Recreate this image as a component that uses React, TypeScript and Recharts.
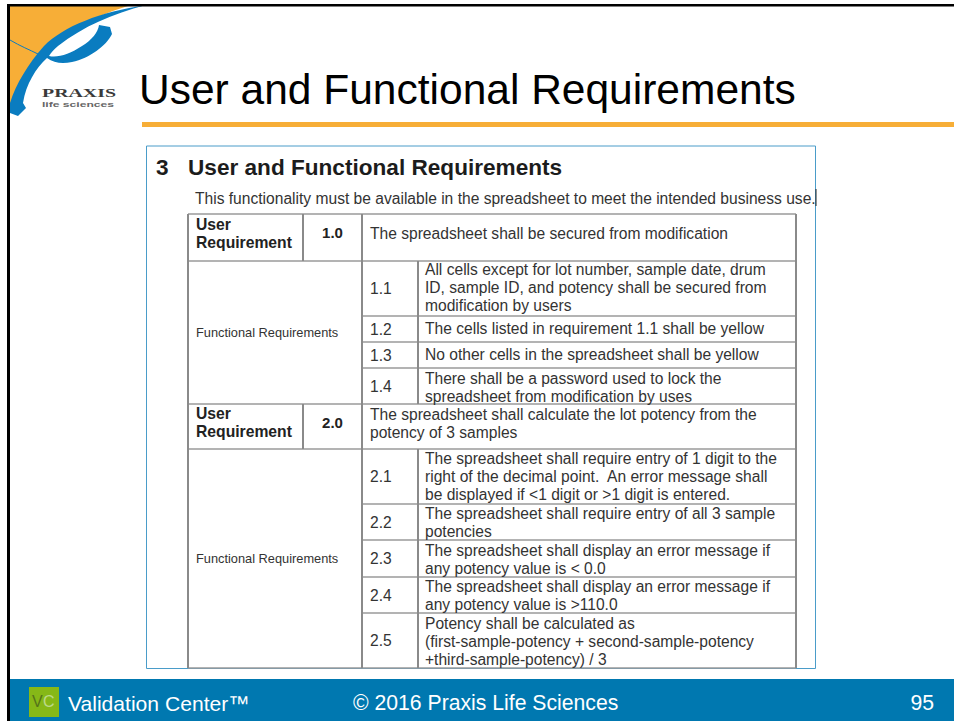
import React from "react";
import { ComposedChart, XAxis, YAxis, Scatter, ReferenceLine, ReferenceArea } from "recharts";

const W = 954, H = 721;
const slideTitle = "User and Functional Requirements";
const sectionNumber = "3";
const sectionTitle = "User and Functional Requirements";
const intro = "This functionality must be available in the spreadsheet to meet the intended business use.";
const headLabels = [["User", "Requirement"], ["User", "Requirement"]];
const headIds = ["1.0", "2.0"];
const headTexts = [
  ["The spreadsheet shall be secured from modification"],
  ["The spreadsheet shall calculate the lot potency from the", "potency of 3 samples"],
];
const blockLabel = "Functional Requirements";
const reqIds = ["1.1", "1.2", "1.3", "1.4", "2.1", "2.2", "2.3", "2.4", "2.5"];
const reqTexts = [
  ["All cells except for lot number, sample date, drum", "ID, sample ID, and potency shall be secured from", "modification by users"],
  ["The cells listed in requirement 1.1 shall be yellow"],
  ["No other cells in the spreadsheet shall be yellow"],
  ["There shall be a password used to lock the", "spreadsheet from modification by uses"],
  ["The spreadsheet shall require entry of 1 digit to the", "right of the decimal point.  An error message shall", "be displayed if <1 digit or >1 digit is entered."],
  ["The spreadsheet shall require entry of all 3 sample", "potencies"],
  ["The spreadsheet shall display an error message if", "any potency value is < 0.0"],
  ["The spreadsheet shall display an error message if", "any potency value is >110.0"],
  ["Potency shall be calculated as", "(first-sample-potency + second-sample-potency", "+third-sample-potency) / 3"],
];
const footerLeft = "Validation Center™";
const footerMid = "© 2016 Praxis Life Sciences";
const footerPage = "95";

// layout
const reqRowTops = [261, 316, 342, 368, 449, 504, 540, 577, 613];
const reqRowBottoms = [316, 342, 368, 404, 504, 540, 577, 613, 668];
const reqFirstBaselines = [275, 334, 360, 384, 464, 519, 556, 592, 629];
const lineGap = 18;
const bodySize = 15.6;

type T = { x: number; y: number; text: string; size: number; weight?: number; fill?: string; anchor?: string; family?: string; len?: number };
const texts: T[] = [];
const ink = "#333";
const add = (t: T) => texts.push(t);

add({ x: 139, y: 104, text: slideTitle, size: 42.5, fill: "#000" });
add({ x: 156, y: 175, text: sectionNumber, size: 22.6, weight: 700, fill: "#1c1c1c" });
add({ x: 188, y: 175, text: sectionTitle, size: 22.6, weight: 700, fill: "#1c1c1c" });
add({ x: 195, y: 204, text: intro, size: bodySize, fill: ink });
const headY = [230, 419];
headLabels.forEach((ls, i) => ls.forEach((l, j) => add({ x: 196, y: headY[i] + j * 18, text: l, size: 15.7, weight: 700, fill: "#222" })));
const headIdY = [238, 428];
headIds.forEach((l, i) => add({ x: 332.5, y: headIdY[i], text: l, size: 15, weight: 700, fill: "#222", anchor: "middle" }));
const headTextY = [239, 420];
headTexts.forEach((ls, i) => ls.forEach((l, j) => add({ x: 370, y: headTextY[i] + j * 18, text: l, size: bodySize, fill: ink })));
[337, 563].forEach((y) => add({ x: 196, y, text: blockLabel, size: 12.8, fill: ink }));
reqIds.forEach((l, i) => add({ x: 370, y: (reqRowTops[i] + reqRowBottoms[i]) / 2 + 5.5, text: l, size: bodySize, fill: ink }));
reqTexts.forEach((ls, i) => ls.forEach((l, j) => add({ x: 425, y: reqFirstBaselines[i] + j * lineGap, text: l, size: bodySize, fill: ink })));
add({ x: 68, y: 711, text: footerLeft, size: 21.1, fill: "#fff" });
add({ x: 353, y: 710, text: footerMid, size: 21.2, fill: "#fff" });
add({ x: 934, y: 710, text: footerPage, size: 21.2, fill: "#fff", anchor: "end" });
add({ x: 32, y: 707, text: "V", size: 16, fill: "#55741a" });
add({ x: 43, y: 707, text: "C", size: 16, fill: "#bcd98a" });
add({ x: 42, y: 97, text: "PRAXIS", size: 12, weight: 700, fill: "#3a3a3a", family: "Liberation Serif", len: 74 });
add({ x: 42, y: 107, text: "life sciences", size: 8, weight: 700, fill: "#666", len: 72 });

const TextMark = (p: any) => {
  const d = p.payload;
  return (
    <text x={p.cx} y={p.cy} fontSize={d.size} fontWeight={d.weight || 400} fill={d.fill} textAnchor={d.anchor || "start"}
      fontFamily={d.family || "Liberation Sans"} style={{ whiteSpace: "pre" }}
      {...(d.len ? { textLength: d.len, lengthAdjust: "spacingAndGlyphs" } : {})}>{d.text}</text>
  );
};

const hLines: [number, number, number][] = [
  [188, 796, 214], [188, 796, 261], [362, 796, 316], [362, 796, 342], [362, 796, 368], [188, 796, 404],
  [188, 796, 449], [362, 796, 504], [362, 796, 540], [362, 796, 577], [362, 796, 613], [188, 796, 668],
];
const vLines: [number, number, number][] = [
  [188, 214, 668], [796, 214, 668], [362, 214, 668], [303, 214, 261], [303, 404, 449], [418, 261, 404], [418, 449, 668],
];
const seg = (a: number, b: number, c: number, horiz: boolean, key: string, color = "#9a9a9a", w = 1.6) => (
  <ReferenceLine key={key} stroke={color} strokeWidth={w} ifOverflow="visible"
    segment={horiz ? [{ x: a, y: c }, { x: b, y: c }] : [{ x: c, y: a }, { x: c, y: b }]} />
);

export default function App() {
  return (
    <div style={{ position: "absolute", left: 0, top: 0, width: W, height: H, background: "#fff", overflow: "hidden" }}>
      <ComposedChart width={W} height={H} data={[]} margin={{ top: 0, right: 0, bottom: 0, left: 0 }}>
        <XAxis type="number" dataKey="x" domain={[0, W]} hide allowDataOverflow />
        <YAxis type="number" dataKey="y" domain={[0, H]} reversed hide allowDataOverflow />
        <path d="M10 6 L128 6 C90 18 62 32 44 50 C28 66 16 86 10 108 Z" fill="#F7AE37" />
        <path d="M10 40 C20 46 30 50 38 54" stroke="#0a7cc0" strokeWidth={1} fill="none" />
        <path d="M10 103 C16 84 28 64 44 46 C64 26 100 12 146 5 C112 14 84 26 58 46 C54 49 51 53 49 56 C58 58 70 54 82 46 C92 40 98 32 99 25 L110 27 L112 34 C106 46 90 58 72 62 C62 64 54 63 47 58 C36 68 26 84 23 103 L26 108 L18 116 L10 113 Z" fill="#0a7cc0" />
        <ReferenceArea x1={7} x2={10} y1={4} y2={721} fill="#000" fillOpacity={1} stroke="none" ifOverflow="visible" />
        <ReferenceArea x1={7} x2={954} y1={4} y2={6.5} fill="#000" fillOpacity={1} stroke="none" ifOverflow="visible" />
        <ReferenceArea x1={142} x2={954} y1={122} y2={127} fill="#F7AE37" fillOpacity={1} stroke="none" ifOverflow="visible" />
        <ReferenceArea x1={146.5} x2={815.5} y1={146} y2={668.5} fill="#fff" fillOpacity={1} stroke="#4a9cc9" strokeWidth={1} ifOverflow="visible" />
        <ReferenceArea x1={10} x2={954} y1={679} y2={721} fill="#0078B0" fillOpacity={1} stroke="none" ifOverflow="visible" />
        <ReferenceArea x1={29} x2={59} y1={687} y2={717} fill="#86B817" fillOpacity={1} stroke="none" ifOverflow="visible" />
        {hLines.map(([a, b, c], i) => seg(a, b, c, true, "h" + i))}
        {vLines.map(([a, b, c], i) => seg(b, c, a, false, "v" + i, "#8a8a8a", 2))}
        {seg(189, 206, 816, false, "caret", "#222", 1)}
        <Scatter data={texts} dataKey="y" isAnimationActive={false} shape={TextMark} />
      </ComposedChart>
    </div>
  );
}
